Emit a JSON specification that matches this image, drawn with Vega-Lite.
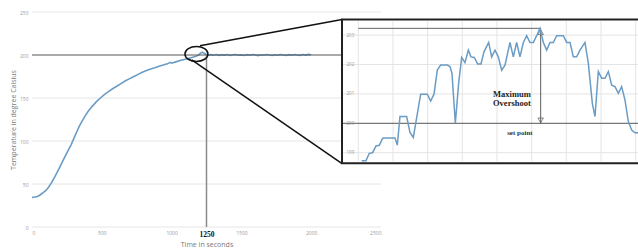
{
  "$schema": "https://vega.github.io/schema/vega-lite/v6.json",
  "autosize": {"type": "none"},
  "padding": {"left": 32, "top": 12, "right": 0, "bottom": 22},
  "width": 606,
  "height": 215,
  "background": "white",
  "config": {"view": {"stroke": null}, "font": "Open Sans"},
  "datasets": {
    "main": [
      {"t": 0, "T": 34.5}, {"t": 20, "T": 34.8}, {"t": 40, "T": 35.5}, {"t": 60, "T": 37.5}, {"t": 80, "T": 40},
      {"t": 100, "T": 42.5}, {"t": 120, "T": 46.5}, {"t": 140, "T": 51.5}, {"t": 160, "T": 57.5}, {"t": 180, "T": 63.5},
      {"t": 200, "T": 70}, {"t": 220, "T": 76.5}, {"t": 240, "T": 83}, {"t": 260, "T": 89.5}, {"t": 280, "T": 95.5},
      {"t": 300, "T": 103}, {"t": 320, "T": 110.5}, {"t": 340, "T": 117.5}, {"t": 360, "T": 123.5}, {"t": 380, "T": 129},
      {"t": 400, "T": 134}, {"t": 430, "T": 140}, {"t": 460, "T": 145.5}, {"t": 490, "T": 150}, {"t": 520, "T": 154.2},
      {"t": 550, "T": 157.8}, {"t": 580, "T": 161}, {"t": 610, "T": 164}, {"t": 640, "T": 167}, {"t": 670, "T": 170},
      {"t": 700, "T": 172.5}, {"t": 730, "T": 175}, {"t": 760, "T": 177.5}, {"t": 790, "T": 180}, {"t": 820, "T": 182},
      {"t": 850, "T": 183.8}, {"t": 880, "T": 185.3}, {"t": 910, "T": 186.8}, {"t": 940, "T": 188.3}, {"t": 970, "T": 189.7},
      {"t": 990, "T": 191.5}, {"t": 1000, "T": 190.5}, {"t": 1030, "T": 192}, {"t": 1060, "T": 193.5}, {"t": 1090, "T": 194.8},
      {"t": 1120, "T": 196}, {"t": 1150, "T": 197.3}, {"t": 1170, "T": 198.2}, {"t": 1190, "T": 199.5}, {"t": 1200, "T": 201},
      {"t": 1210, "T": 202.5}, {"t": 1220, "T": 203.2}, {"t": 1230, "T": 202.2}, {"t": 1240, "T": 201.5}, {"t": 1250, "T": 200.2},
      {"t": 1260, "T": 199.5}, {"t": 1280, "T": 200.4}, {"t": 1300, "T": 199.8}, {"t": 1320, "T": 200.6}, {"t": 1340, "T": 199.6},
      {"t": 1360, "T": 200.3}, {"t": 1380, "T": 199.9}, {"t": 1400, "T": 200.5}, {"t": 1420, "T": 199.4}, {"t": 1440, "T": 200.2},
      {"t": 1460, "T": 200.6}, {"t": 1480, "T": 199.7}, {"t": 1500, "T": 200.1}, {"t": 1520, "T": 199.5}, {"t": 1540, "T": 200.4},
      {"t": 1560, "T": 199.8}, {"t": 1580, "T": 200.5}, {"t": 1600, "T": 199.9}, {"t": 1620, "T": 199.3}, {"t": 1640, "T": 200.3},
      {"t": 1660, "T": 199.8}, {"t": 1680, "T": 200.6}, {"t": 1700, "T": 199.9}, {"t": 1720, "T": 199.4}, {"t": 1740, "T": 200.2},
      {"t": 1760, "T": 199.7}, {"t": 1780, "T": 200.5}, {"t": 1800, "T": 200.0}, {"t": 1820, "T": 199.5}, {"t": 1840, "T": 200.4},
      {"t": 1860, "T": 199.7}, {"t": 1880, "T": 200.6}, {"t": 1900, "T": 200.0}, {"t": 1920, "T": 199.6}, {"t": 1940, "T": 200.5},
      {"t": 1960, "T": 199.9}, {"t": 1980, "T": 200.7}, {"t": 2000, "T": 200.2}
    ],
    "mgridy": [{"T": 0}, {"T": 50}, {"T": 100}, {"T": 150}, {"T": 250}],
    "zoomlines": [
      {"t": 1203, "T": 210.8, "t2": 2221, "T2": 241.3},
      {"t": 1144, "T": 194.2, "t2": 2221, "T2": 73.8}
    ],
    "inset": [
      {"t": 1190.96, "T": 198.73}, {"t": 1192.21, "T": 198.73}, {"t": 1193.17, "T": 198.98}, {"t": 1194.13, "T": 199.0},
      {"t": 1195.1, "T": 199.23}, {"t": 1196.06, "T": 199.25}, {"t": 1197.02, "T": 199.49}, {"t": 1197.98, "T": 199.5},
      {"t": 1198.94, "T": 199.5}, {"t": 1199.9, "T": 199.5}, {"t": 1200.58, "T": 199.5}, {"t": 1201.25, "T": 199.26},
      {"t": 1202.02, "T": 200.23}, {"t": 1202.98, "T": 200.23}, {"t": 1203.94, "T": 200.23}, {"t": 1204.9, "T": 199.69},
      {"t": 1205.87, "T": 199.52}, {"t": 1207.98, "T": 200.99}, {"t": 1208.94, "T": 200.99}, {"t": 1209.9, "T": 200.99},
      {"t": 1210.87, "T": 200.76}, {"t": 1211.83, "T": 200.99}, {"t": 1212.79, "T": 201.81}, {"t": 1213.75, "T": 201.98},
      {"t": 1214.71, "T": 201.98}, {"t": 1215.67, "T": 201.98}, {"t": 1216.44, "T": 201.93}, {"t": 1217.02, "T": 201.7},
      {"t": 1217.98, "T": 200.0}, {"t": 1218.94, "T": 201.36}, {"t": 1219.81, "T": 202.24}, {"t": 1220.77, "T": 202.06},
      {"t": 1221.73, "T": 202.49}, {"t": 1222.5, "T": 202.26}, {"t": 1223.46, "T": 202.24}, {"t": 1224.42, "T": 202.02},
      {"t": 1225.38, "T": 202.02}, {"t": 1226.25, "T": 202.43}, {"t": 1227.6, "T": 202.75}, {"t": 1228.46, "T": 202.26},
      {"t": 1229.42, "T": 202.49}, {"t": 1230.38, "T": 202.26}, {"t": 1231.35, "T": 201.81}, {"t": 1232.31, "T": 201.98},
      {"t": 1233.75, "T": 202.75}, {"t": 1234.71, "T": 202.26}, {"t": 1235.67, "T": 202.75}, {"t": 1236.63, "T": 202.26},
      {"t": 1237.6, "T": 202.75}, {"t": 1238.56, "T": 202.98}, {"t": 1239.52, "T": 202.75}, {"t": 1240.48, "T": 202.75},
      {"t": 1241.44, "T": 202.98}, {"t": 1242.4, "T": 203.23}, {"t": 1243.37, "T": 202.75}, {"t": 1244.33, "T": 202.49},
      {"t": 1245.29, "T": 202.75}, {"t": 1246.25, "T": 202.75}, {"t": 1247.21, "T": 202.98}, {"t": 1248.17, "T": 202.98},
      {"t": 1249.13, "T": 202.98}, {"t": 1250.1, "T": 202.75}, {"t": 1251.06, "T": 202.75}, {"t": 1252.02, "T": 202.26},
      {"t": 1252.98, "T": 202.26}, {"t": 1253.94, "T": 202.49}, {"t": 1255.38, "T": 202.75}, {"t": 1256.35, "T": 202.04},
      {"t": 1257.5, "T": 200.68}, {"t": 1258.27, "T": 200.23}, {"t": 1259.23, "T": 201.76}, {"t": 1260.19, "T": 201.53},
      {"t": 1261.15, "T": 201.53}, {"t": 1262.12, "T": 201.76}, {"t": 1263.08, "T": 201.3}, {"t": 1264.04, "T": 201.25},
      {"t": 1265.0, "T": 201.02}, {"t": 1265.96, "T": 201.25}, {"t": 1266.92, "T": 200.79}, {"t": 1267.88, "T": 200.06},
      {"t": 1268.85, "T": 199.77}, {"t": 1269.81, "T": 199.68}, {"t": 1270.67, "T": 199.68}
    ],
    "igridx": [{"t": 1190}, {"t": 1200}, {"t": 1210}, {"t": 1220}, {"t": 1230}, {"t": 1240}, {"t": 1250}, {"t": 1260}, {"t": 1270}],
    "igridy": [{"T": 199}, {"T": 201}, {"T": 202}, {"T": 203}]
  },
  "resolve": {"scale": {"x": "independent", "y": "independent"}, "axis": {"x": "independent", "y": "independent"}},
  "layer": [
    {
      "layer": [
        {
          "data": {"name": "mgridy"},
          "mark": {"type": "rule", "color": "#e6e6e6", "strokeWidth": 1},
          "encoding": {
            "y": {"field": "T", "type": "quantitative"},
            "x": {"datum": 0},
            "x2": {"datum": 2500}
          }
        },
        {
          "data": {"name": "main"},
          "mark": {"type": "line", "color": "#6a9cc5", "strokeWidth": 1.6},
          "encoding": {
            "x": {
              "field": "t", "type": "quantitative",
              "scale": {"domain": [0, 2500], "range": [0, 349], "nice": false, "zero": false},
              "axis": {
                "values": [0, 500, 1000, 1250, 1500, 2000, 2500],
                "format": "d",
                "title": "Time in seconds",
                "ticks": false, "domain": false,
                "gridColor": "#e6e6e6",
                "gridOpacity": {"condition": {"test": "datum.value == 1250", "value": 0}, "value": 1},
                "labelFont": {"condition": {"test": "datum.value == 1250", "value": "Liberation Serif"}, "value": "Open Sans"},
                "labelFontSize": {"condition": {"test": "datum.value == 1250", "value": 7.5}, "value": 5},
                "labelFontWeight": {"condition": {"test": "datum.value == 1250", "value": "bold"}, "value": "normal"},
                "labelColor": {"condition": {"test": "datum.value == 1250", "value": "#111111"}, "value": "#9a9a9a"},
                "labelPadding": 3,
                "titleFont": "Open Sans", "titleFontSize": 7, "titleFontWeight": "normal", "titleColor": "#7a7a7a", "titlePadding": 3
              }
            },
            "y": {
              "field": "T", "type": "quantitative",
              "scale": {"domain": [0, 250], "nice": false},
              "axis": {
                "values": [0, 50, 100, 150, 200, 250],
                "title": "Temperature in degree Calsius",
                "ticks": false, "domain": false, "grid": false,
                "labelFontSize": 5, "labelColor": "#9a9a9a", "labelPadding": 4,
                "titleFont": "Open Sans", "titleFontSize": 7, "titleFontWeight": "normal", "titleColor": "#7a7a7a", "titlePadding": 3
              }
            }
          }
        },
        {
          "data": {"values": [{}]},
          "mark": {"type": "rule", "color": "#555555", "strokeWidth": 1},
          "encoding": {"y": {"datum": 200}, "x": {"datum": 0}, "x2": {"datum": 2500}}
        },
        {
          "data": {"values": [{}]},
          "mark": {"type": "rule", "color": "#8a8a8a", "strokeWidth": 1.5},
          "encoding": {"x": {"datum": 1250}, "y": {"datum": 0}, "y2": {"datum": 200}}
        },
        {
          "data": {"values": [{}]},
          "mark": {"type": "point", "shape": "M-1,0A1,0.65,0,1,1,1,0A1,0.65,0,1,1,-1,0Z", "size": 529, "filled": false, "stroke": "#111111", "strokeWidth": 1.5, "opacity": 1},
          "encoding": {"x": {"datum": 1178}, "y": {"datum": 201.2}}
        },
        {
          "data": {"name": "zoomlines"},
          "mark": {"type": "rule", "color": "#111111", "strokeWidth": 1.5},
          "encoding": {
            "x": {"field": "t", "type": "quantitative"},
            "y": {"field": "T", "type": "quantitative"},
            "x2": {"field": "t2"},
            "y2": {"field": "T2"}
          }
        }
      ]
    },
    {
      "layer": [
        {
          "data": {"values": [{}]},
          "mark": {"type": "rect", "fill": "white", "stroke": "#222222", "strokeWidth": 2},
          "encoding": {
            "x": {"datum": 1185.3, "type": "quantitative", "scale": {"domain": [1184.72, 1270.67], "range": [308, 606], "nice": false, "zero": false}, "axis": null},
            "x2": {"datum": 1272},
            "y": {"datum": 198.64, "type": "quantitative", "scale": {"domain": [196.473, 203.786], "nice": false, "zero": false},
              "axis": {"orient": "left", "offset": -308, "values": [199, 200, 201, 202, 203], "title": null, "grid": false, "ticks": false, "tickSize": 0, "domain": false, "zindex": 1,
                "labelAlign": "left", "labelPadding": -6, "labelFontSize": 4.5, "labelColor": "#999999"}},
            "y2": {"datum": 203.53}
          }
        },
        {
          "data": {"name": "igridx"},
          "mark": {"type": "rule", "color": "#e4e4e4", "strokeWidth": 1},
          "encoding": {"x": {"field": "t", "type": "quantitative"}, "y": {"datum": 198.7}, "y2": {"datum": 203.47}}
        },
        {
          "data": {"name": "igridy"},
          "mark": {"type": "rule", "color": "#e4e4e4", "strokeWidth": 1},
          "encoding": {"y": {"field": "T", "type": "quantitative"}, "x": {"datum": 1185.6}, "x2": {"datum": 1270.67}}
        },
        {
          "data": {"values": [{}]},
          "mark": {"type": "rule", "color": "#555555", "strokeWidth": 1},
          "encoding": {"y": {"datum": 200}, "x": {"datum": 1185.6}, "x2": {"datum": 1270.67}}
        },
        {
          "data": {"values": [{}]},
          "mark": {"type": "rule", "color": "#666666", "strokeWidth": 1},
          "encoding": {"y": {"datum": 203.23}, "x": {"datum": 1190}, "x2": {"datum": 1242.4}}
        },
        {
          "data": {"values": [{}]},
          "mark": {"type": "rule", "color": "#333333", "strokeWidth": 0.8},
          "encoding": {"x": {"datum": 1242.6}, "y": {"datum": 200}, "y2": {"datum": 203.23}}
        },
        {
          "data": {"values": [{}]},
          "mark": {"type": "point", "shape": "triangle-up", "size": 30, "filled": false, "stroke": "#555555", "strokeWidth": 0.7, "opacity": 1},
          "encoding": {"x": {"datum": 1242.6}, "y": {"datum": 203.1}}
        },
        {
          "data": {"values": [{}]},
          "mark": {"type": "point", "shape": "triangle-down", "size": 30, "filled": false, "stroke": "#555555", "strokeWidth": 0.7, "opacity": 1},
          "encoding": {"x": {"datum": 1242.6}, "y": {"datum": 200.1}}
        },
        {
          "data": {"name": "inset"},
          "mark": {"type": "line", "color": "#6a9cc5", "strokeWidth": 1.5},
          "encoding": {"x": {"field": "t", "type": "quantitative"}, "y": {"field": "T", "type": "quantitative"}}
        },
        {
          "data": {"values": [{}]},
          "mark": {"type": "text", "font": "Liberation Serif", "fontWeight": "bold", "fontSize": 8.5, "color": "#222222", "align": "center", "baseline": "middle", "lineHeight": 9.3},
          "encoding": {"x": {"datum": 1234.3}, "y": {"datum": 201.01}, "text": {"value": ["Maximum", "Overshoot"]}}
        },
        {
          "data": {"values": [{}]},
          "mark": {"type": "text", "font": "Liberation Serif", "fontWeight": "bold", "fontSize": 7, "color": "#333333", "align": "center", "baseline": "middle"},
          "encoding": {"x": {"datum": 1236.6}, "y": {"datum": 199.68}, "text": {"value": "set point"}}
        }
      ]
    }
  ]
}
